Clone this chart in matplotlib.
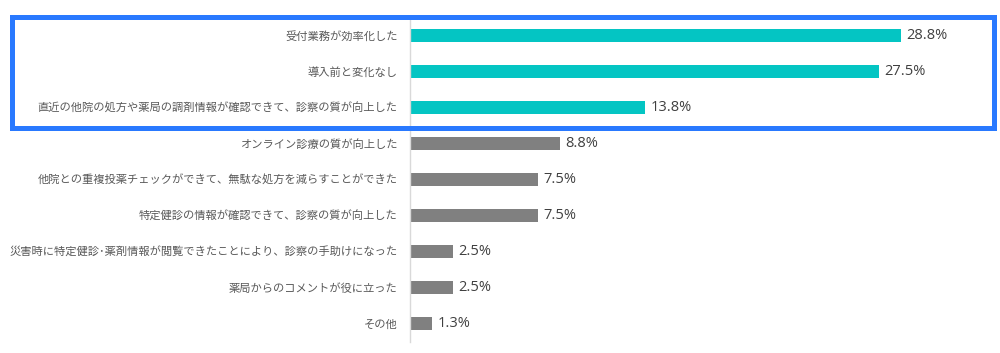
import matplotlib
matplotlib.use("Agg")
import matplotlib.pyplot as plt
from matplotlib.patches import Rectangle

plt.rcParams['font.family'] = ['Noto Sans CJK JP', 'DejaVu Sans']

categories = [
    "受付業務が効率化した",
    "導入前と変化なし",
    "直近の他院の処方や薬局の調剤情報が確認できて、診察の質が向上した",
    "オンライン診療の質が向上した",
    "他院との重複投薬チェックができて、無駄な処方を減らすことができた",
    "特定健診の情報が確認できて、診察の質が向上した",
    "災害時に特定健診･薬剤情報が閲覧できたことにより、診察の手助けになった",
    "薬局からのコメントが役に立った",
    "その他",
]
values = [28.8, 27.5, 13.8, 8.8, 7.5, 7.5, 2.5, 2.5, 1.3]
highlight = [True, True, True, False, False, False, False, False, False]

fig = plt.figure(figsize=(10, 3.53), dpi=100)
ax = fig.add_axes([0.41, 0.0312, 0.58, 0.9206])

ypos = list(range(len(categories)))
colors = ['#04C5C3' if h else '#808080' for h in highlight]
ax.barh(ypos, values, height=0.36, color=colors)
ax.set_ylim(len(categories) - 0.5, -0.5)
ax.set_xlim(0, 34.0)

ax.set_yticks(ypos)
ax.set_yticklabels(categories, fontsize=8.1, color='#595959')
ax.tick_params(axis='y', length=0, pad=9)
ax.set_xticks([])
for s in ['top', 'right', 'bottom']:
    ax.spines[s].set_visible(False)
ax.spines['left'].set_color('#d9d9d9')
ax.spines['left'].set_linewidth(1)

for y, v in zip(ypos, values):
    ax.text(v + 0.3, y, f"{v:.1f}%", va='center', ha='left',
            fontsize=10.5, color='#404040', family=['Open Sans', 'DejaVu Sans'])

rect = Rectangle((0.0115, 1 - 128 / 353), 0.982, (128 - 17.5) / 353,
                 transform=fig.transFigure, fill=False,
                 edgecolor='#2979FF', linewidth=3.6)
fig.patches.append(rect)

fig.savefig("out.png", dpi=100)
